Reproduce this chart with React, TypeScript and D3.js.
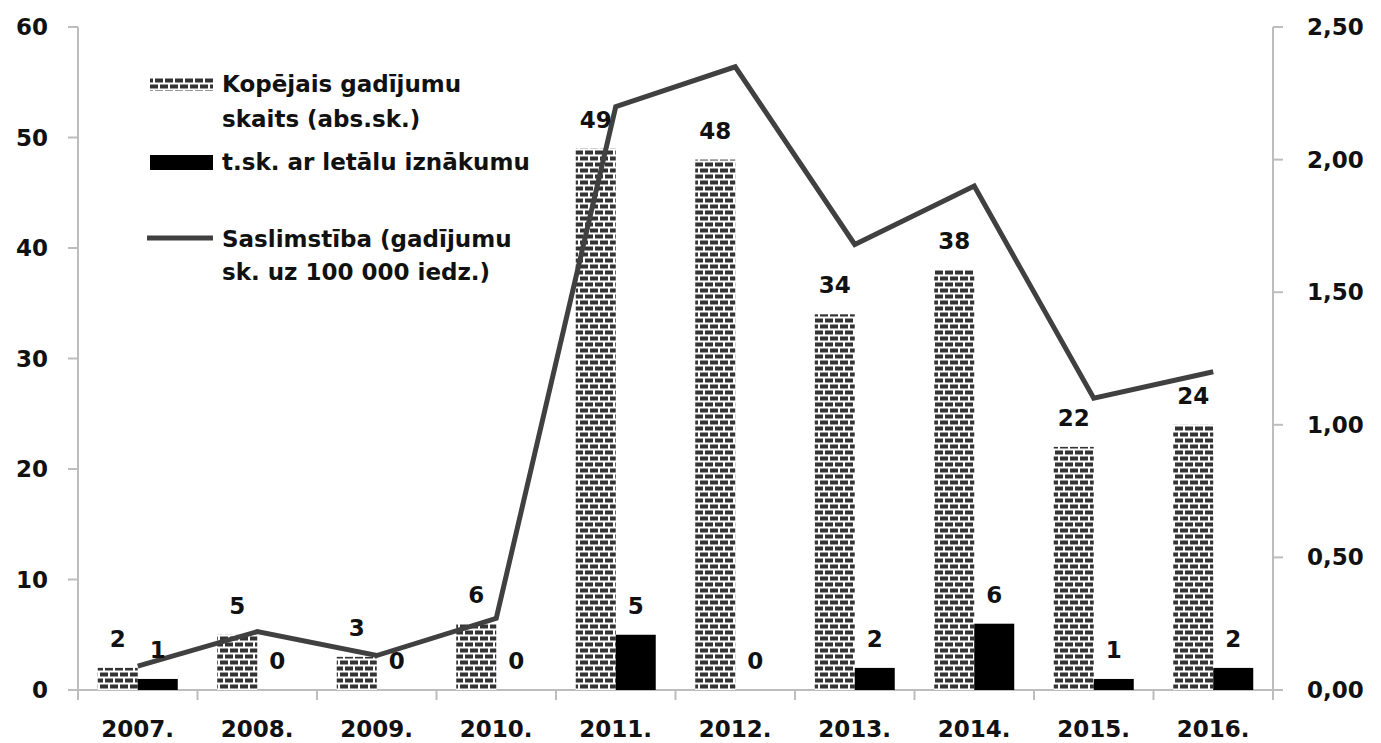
import React from "react";
import * as d3 from "d3";

const years = ["2007.", "2008.", "2009.", "2010.", "2011.", "2012.", "2013.", "2014.", "2015.", "2016."];
const totalCases = [2, 5, 3, 6, 49, 48, 34, 38, 22, 24];
const fatalCases = [1, 0, 0, 0, 5, 0, 2, 6, 1, 2];
const incidence = [0.09, 0.22, 0.13, 0.27, 2.2, 2.35, 1.68, 1.9, 1.1, 1.2];
const leftTicks = [0, 10, 20, 30, 40, 50, 60];
const rightTicks = [0, 0.5, 1, 1.5, 2, 2.5];

const W = 1381;
const H = 743;
const M = { left: 78, right: 1273, top: 27, bottom: 690 };
const FONT = "'DejaVu Sans', Verdana, sans-serif";
const AXIS = "#bdbdbd";

export default function App() {
  const x = d3.scaleBand<string>().domain(years).range([M.left, M.right]).padding(0);
  const yL = d3.scaleLinear().domain([0, 60]).range([M.bottom, M.top]);
  const yR = d3.scaleLinear().domain([0, 2.5]).range([M.bottom, M.top]);
  const barW = 40;
  const fmtR = (v: number) => v.toFixed(2).replace(".", ",");
  const line = d3
    .line<number>()
    .x((_, i) => (x(years[i]) as number) + x.bandwidth() / 2)
    .y((d) => yR(d));

  const labelFont = { fontFamily: FONT, fontWeight: 700, fontSize: 23, fill: "#111" } as const;
  const legendFont = { fontFamily: FONT, fontWeight: 700, fontSize: 23, fill: "#111" } as const;

  return (
    <svg width={W} height={H} style={{ position: "absolute", left: 0, top: 0, background: "#fff" }}>
      <defs>
        <pattern id="brick" width={10} height={12} patternUnits="userSpaceOnUse">
          <rect width={10} height={12} fill="#fff" />
          <rect x={0} y={0.5} width={8} height={4} fill="#333" />
          <rect x={-5} y={6.5} width={8} height={4} fill="#333" />
          <rect x={5} y={6.5} width={8} height={4} fill="#333" />
        </pattern>
      </defs>

      {/* axes */}
      <line x1={M.left} x2={M.left} y1={M.top} y2={M.bottom + 10} stroke={AXIS} strokeWidth={2} />
      <line x1={M.right} x2={M.right} y1={M.top} y2={M.bottom + 10} stroke={AXIS} strokeWidth={2} />
      <line x1={M.left - 10} x2={M.right + 10} y1={M.bottom} y2={M.bottom} stroke={AXIS} strokeWidth={2} />
      {years.map((y, i) =>
        i === 0 ? null : (
          <line key={y} x1={x(y)} x2={x(y)} y1={M.bottom} y2={M.bottom + 10} stroke={AXIS} strokeWidth={2} />
        )
      )}
      {leftTicks.map((t) => (
        <g key={"l" + t}>
          <line x1={M.left - 10} x2={M.left} y1={yL(t)} y2={yL(t)} stroke={AXIS} strokeWidth={2} />
          <text x={48} y={yL(t) + 8} textAnchor="end" {...labelFont}>
            {t}
          </text>
        </g>
      ))}
      {rightTicks.map((t) => (
        <g key={"r" + t}>
          <line x1={M.right} x2={M.right + 10} y1={yR(t)} y2={yR(t)} stroke={AXIS} strokeWidth={2} />
          <text x={1307} y={yR(t) + 8} textAnchor="start" {...labelFont}>
            {fmtR(t)}
          </text>
        </g>
      ))}
      {years.map((y) => (
        <text key={"x" + y} x={(x(y) as number) + x.bandwidth() / 2} y={737} textAnchor="middle" {...labelFont}>
          {y}
        </text>
      ))}

      {/* bars */}
      {years.map((y, i) => {
        const c = (x(y) as number) + x.bandwidth() / 2;
        return (
          <g key={"b" + y}>
            <rect x={c - barW} y={yL(totalCases[i])} width={barW} height={M.bottom - yL(totalCases[i])} fill="url(#brick)" />
            <rect x={c} y={yL(fatalCases[i])} width={barW} height={M.bottom - yL(fatalCases[i])} fill="#000" />
          </g>
        );
      })}

      {/* line */}
      <path d={line(incidence) as string} fill="none" stroke="#404040" strokeWidth={5} strokeLinejoin="miter" />

      {/* data labels */}
      {years.map((y, i) => {
        const c = (x(y) as number) + x.bandwidth() / 2;
        return (
          <g key={"lab" + y}>
            <text x={c - barW / 2} y={yL(totalCases[i]) - 21} textAnchor="middle" {...labelFont}>
              {totalCases[i]}
            </text>
            <text x={c + barW / 2} y={yL(fatalCases[i]) - 21} textAnchor="middle" {...labelFont}>
              {fatalCases[i]}
            </text>
          </g>
        );
      })}

      {/* legend */}
      <rect x={150} y={78} width={63} height={13} fill="url(#brick)" />
      <text x={222} y={92} {...legendFont}>Kopējais gadījumu</text>
      <text x={222} y={127} {...legendFont}>skaits (abs.sk.)</text>
      <rect x={150} y={155} width={63} height={15} fill="#000" />
      <text x={222} y={170} {...legendFont}>t.sk. ar letālu iznākumu</text>
      <line x1={147} x2={213} y1={238} y2={238} stroke="#404040" strokeWidth={5} />
      <text x={222} y={247} {...legendFont}>Saslimstība (gadījumu</text>
      <text x={222} y={280} {...legendFont}>sk. uz 100 000 iedz.)</text>
    </svg>
  );
}
